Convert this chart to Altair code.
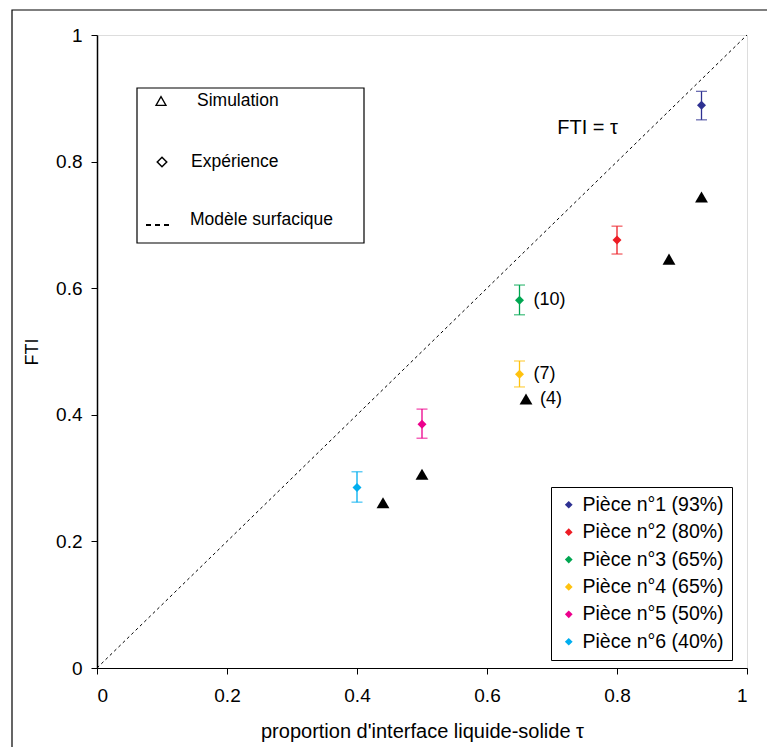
import altair as alt
import pandas as pd

# ---------------- data ----------------
pieces = ["Pièce n°1 (93%)", "Pièce n°2 (80%)", "Pièce n°3 (65%)",
          "Pièce n°4 (65%)", "Pièce n°5 (50%)", "Pièce n°6 (40%)"]
piece_colors = ["#2E3192", "#ED1C24", "#00A651", "#FFC20E", "#EC008C", "#00AEEF"]
exp_tau = [0.93, 0.80, 0.65, 0.65, 0.50, 0.40]
exp_fti = [0.889, 0.676, 0.581, 0.464, 0.385, 0.285]
exp_lo = [0.866, 0.654, 0.558, 0.444, 0.363, 0.262]
exp_hi = [0.911, 0.698, 0.605, 0.485, 0.409, 0.310]

sim_tau = [0.93, 0.88, 0.66, 0.50, 0.44]
sim_fti = [0.744, 0.646, 0.425, 0.306, 0.261]

ann_labels = ["(10)", "(7)", "(4)"]
ann_tau = [0.65, 0.65, 0.66]
ann_fti = [0.581, 0.464, 0.425]

model_tau = [0.0, 1.0]
model_fti = [0.0, 1.0]

model_label = ["FTI = τ"]
model_label_tau = [0.708]
model_label_fti = [0.853]

key_labels = ["Simulation", "Expérience", "Modèle surfacique"]

x_ticks = [0, 0.2, 0.4, 0.6, 0.8, 1.0]
y_ticks = [0, 0.2, 0.4, 0.6, 0.8, 1.0]
x_title = "proportion d'interface liquide-solide τ"
y_title = "FTI"

FONT = "Liberation Sans"

exp_df = pd.DataFrame({"piece": pieces, "tau": exp_tau, "fti": exp_fti,
                       "lo": exp_lo, "hi": exp_hi})
sim_df = pd.DataFrame({"tau": sim_tau, "fti": sim_fti})
ann_df = pd.DataFrame({"label": ann_labels, "tau": ann_tau, "fti": ann_fti})
model_df = pd.DataFrame({"tau": model_tau, "fti": model_fti})
mlab_df = pd.DataFrame({"label": model_label, "tau": model_label_tau, "fti": model_label_fti})
one = pd.DataFrame({"k": [0]})

xscale = alt.Scale(domain=[0, 1], nice=False, zero=False)
yscale = alt.Scale(domain=[0, 1], nice=False, zero=False)
cscale = alt.Scale(domain=pieces, range=piece_colors)

x_axis = alt.Axis(values=x_ticks, format=".1~f", title=x_title, grid=False,
                  labelFontSize=19, titleFontSize=20, tickSize=6, labelPadding=12,
                  titlePadding=16, domainColor="black", tickColor="black",
                  labelColor="black", titleColor="black", titleFontWeight="normal",
                  labelFont=FONT, titleFont=FONT, domainWidth=1.2)
y_axis = alt.Axis(values=y_ticks, format=".1~f", title=y_title, grid=False,
                  labelFontSize=19, titleFontSize=18, tickSize=6, labelPadding=9,
                  titlePadding=14, domainColor="black", tickColor="black",
                  labelColor="black", titleColor="black", titleFontWeight="normal",
                  labelFont=FONT, titleFont=FONT, domainWidth=1.5)

legend = alt.Legend(title=None, orient="none", legendX=454, legendY=452,
                    symbolType="diamond", symbolSize=60, symbolOpacity=1,
                    labelFontSize=19.5, labelFont=FONT, labelColor="black",
                    strokeColor="black", fillColor="white",
                    padding=8, rowPadding=6.4, labelOffset=4,
                    labelLimit=400, symbolStrokeWidth=0)

X = alt.X("tau:Q", scale=xscale, axis=x_axis)
Y = alt.Y("fti:Q", scale=yscale, axis=y_axis)
C = alt.Color("piece:N", scale=cscale, legend=legend)

# outer frame of the figure
frame = alt.Chart(one).mark_rect(fillOpacity=0, stroke="black", strokeWidth=1.2).encode(
    x=alt.value(-85), x2=alt.value(1200), y=alt.value(-25), y2=alt.value(1200))

diag = alt.Chart(model_df).mark_line(color="black", strokeDash=[3, 3], strokeWidth=1).encode(
    x=X, y=Y)

err_rule = alt.Chart(exp_df).mark_rule(strokeWidth=1.3).encode(
    x=X, y=alt.Y("lo:Q", scale=yscale, axis=y_axis), y2="hi:Q", color=C)
cap_lo = alt.Chart(exp_df).mark_tick(orient="horizontal", size=11, thickness=1.3).encode(
    x=X, y=alt.Y("lo:Q", scale=yscale, axis=y_axis), color=C)
cap_hi = alt.Chart(exp_df).mark_tick(orient="horizontal", size=11, thickness=1.3).encode(
    x=X, y=alt.Y("hi:Q", scale=yscale, axis=y_axis), color=C)

diamonds = alt.Chart(exp_df).mark_point(shape="diamond", filled=True, size=80, opacity=1).encode(
    x=X, y=Y, color=C)

triangles = alt.Chart(sim_df).mark_point(shape="triangle-up", filled=True, size=165,
                                         color="black", opacity=1).encode(x=X, y=Y)

ann = alt.Chart(ann_df).mark_text(align="left", baseline="middle", dx=14, fontSize=18,
                                  font=FONT, color="black").encode(x=X, y=Y, text="label:N")

mlab = alt.Chart(mlab_df).mark_text(align="left", baseline="middle", fontSize=20,
                                    font=FONT, color="black").encode(x=X, y=Y, text="label:N")

# key box (Simulation / Expérience / Modèle surfacique)
key_box = alt.Chart(one).mark_rect(fill="white", stroke="black", strokeWidth=1.2).encode(
    x=alt.value(40), x2=alt.value(267), y=alt.value(53), y2=alt.value(208))
key_tri = alt.Chart(one).mark_point(shape="triangle-up", filled=False, size=100,
                                    color="black", strokeWidth=1.3, opacity=1).encode(
    x=alt.value(64), y=alt.value(66))
key_dia = alt.Chart(one).mark_point(shape="diamond", filled=False, size=90,
                                    color="black", strokeWidth=1.5, opacity=1).encode(
    x=alt.value(65), y=alt.value(127))
key_dash = alt.Chart(one).mark_rule(color="black", strokeWidth=2, strokeDash=[5, 4]).encode(
    x=alt.value(49), x2=alt.value(76), y=alt.value(190))
key_t1 = alt.Chart(one).mark_text(align="left", baseline="middle", fontSize=17.5, font=FONT,
                                  color="black", text=key_labels[0]).encode(
    x=alt.value(100), y=alt.value(66))
key_t2 = alt.Chart(one).mark_text(align="left", baseline="middle", fontSize=17.5, font=FONT,
                                  color="black", text=key_labels[1]).encode(
    x=alt.value(94), y=alt.value(127))
key_t3 = alt.Chart(one).mark_text(align="left", baseline="middle", fontSize=17.5, font=FONT,
                                  color="black", text=key_labels[2]).encode(
    x=alt.value(93), y=alt.value(185))

chart = alt.layer(
    frame, diag, err_rule, cap_lo, cap_hi, diamonds, triangles, ann, mlab,
    key_box, key_tri, key_dia, key_dash, key_t1, key_t2, key_t3
).properties(
    width=650, height=633,
    padding={"left": 89, "top": 27, "right": 20, "bottom": 79},
    autosize=alt.AutoSizeParams(type="none"),
    background="white",
).configure_view(stroke="black", strokeWidth=1.2).configure(font=FONT)

chart.save("out.html", embed_options={"renderer": "svg", "actions": False})
